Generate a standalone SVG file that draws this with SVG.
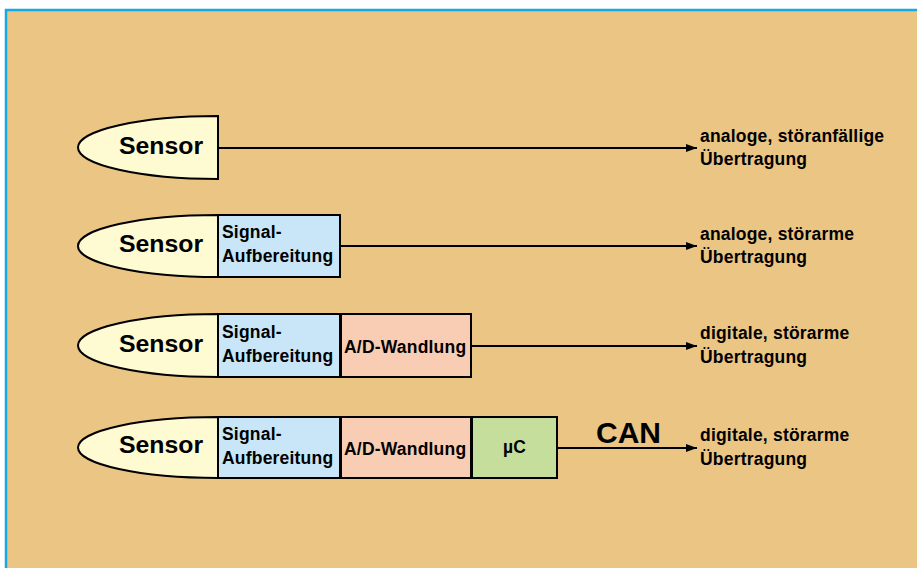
<svg xmlns="http://www.w3.org/2000/svg" width="917" height="568" viewBox="0 0 917 568">
<defs>
<style>
.bg{fill:#EBC584;stroke:#17A9E3;stroke-width:2.5}
.sensor{fill:#FEFAD2;stroke:#000;stroke-width:2}
.sig{fill:#C8E6F8;stroke:#000;stroke-width:2}
.ad{fill:#F9CDB3;stroke:#000;stroke-width:2}
.uc{fill:#C5DE9C;stroke:#000;stroke-width:2}
text{font-family:"Liberation Sans",Arial,sans-serif;font-weight:bold;fill:#000}
.big{font-size:24.8px}
.sm{font-size:17.5px;letter-spacing:0.2px}
.can{font-size:30px}
.conn line{stroke:#000;stroke-width:2}
</style>
<marker id="arr" markerWidth="12" markerHeight="10" refX="11" refY="5" orient="auto" markerUnits="userSpaceOnUse">
<path d="M0,1 L11,5 L0,9 Z" fill="#000"/>
</marker>
</defs>
<rect class="bg" x="6" y="10" width="930" height="580"/>

<g id="row1">
<g id="sensor1"><path class="sensor" d="M218,116 A140,31.5 0 0 0 218,179 Z"/><text class="big" x="119" y="154">Sensor</text></g>
<g id="label1"><text class="sm" x="700" y="142">analoge, störanfällige</text><text class="sm" x="700" y="165">Übertragung</text></g>
</g>

<g id="row2">
<g id="sensor2"><path class="sensor" d="M218,215 A140,31 0 0 0 218,277 Z"/><text class="big" x="119" y="252">Sensor</text></g>
<g id="signal2"><rect class="sig" x="218" y="215" width="122" height="62"/><text class="sm" x="222" y="238">Signal-</text><text class="sm" x="222" y="262">Aufbereitung</text></g>
<g id="label2"><text class="sm" x="700" y="240">analoge, störarme</text><text class="sm" x="700" y="263">Übertragung</text></g>
</g>

<g id="row3">
<g id="sensor3"><path class="sensor" d="M218,314 A140,31.5 0 0 0 218,377 Z"/><text class="big" x="119" y="352">Sensor</text></g>
<g id="signal3"><rect class="sig" x="218" y="314" width="122" height="63"/><text class="sm" x="222" y="338">Signal-</text><text class="sm" x="222" y="362">Aufbereitung</text></g>
<g id="ad3"><rect class="ad" x="341" y="314" width="130" height="63"/><text class="sm" x="344" y="353">A/D-Wandlung</text></g>
<g id="label3"><text class="sm" x="700" y="339">digitale, störarme</text><text class="sm" x="700" y="363">Übertragung</text></g>
</g>

<g id="row4">
<g id="sensor4"><path class="sensor" d="M218,417 A140,30.5 0 0 0 218,478 Z"/><text class="big" x="119" y="453">Sensor</text></g>
<g id="signal4"><rect class="sig" x="218" y="417" width="122" height="61"/><text class="sm" x="222" y="440">Signal-</text><text class="sm" x="222" y="464">Aufbereitung</text></g>
<g id="ad4"><rect class="ad" x="341" y="417" width="130" height="61"/><text class="sm" x="344" y="455">A/D-Wandlung</text></g>
<g id="uc4"><rect class="uc" x="472" y="417" width="85" height="61"/><text class="sm" x="514.5" y="453" text-anchor="middle">µC</text></g>
<g id="label4"><text class="sm" x="700" y="441">digitale, störarme</text><text class="sm" x="700" y="465">Übertragung</text></g>
<text class="can" x="596" y="443">CAN</text>
</g>

<g id="connectors" class="conn">
<line x1="218" y1="148" x2="697" y2="148" marker-end="url(#arr)"/>
<line x1="340" y1="246" x2="697" y2="246" marker-end="url(#arr)"/>
<line x1="471" y1="346" x2="697" y2="346" marker-end="url(#arr)"/>
<line x1="557" y1="448" x2="697" y2="448" marker-end="url(#arr)"/>
</g>
</svg>
